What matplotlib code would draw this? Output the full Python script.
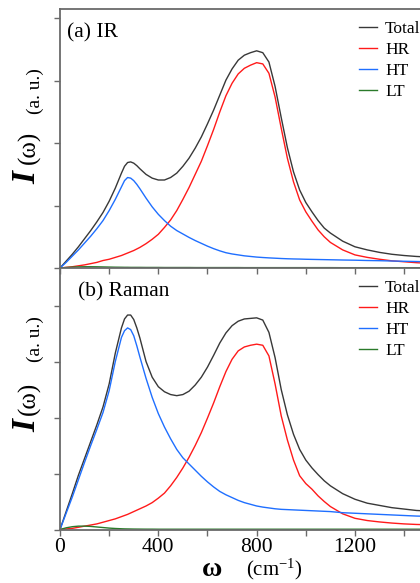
import matplotlib
matplotlib.use("Agg")
import matplotlib.pyplot as plt

plt.rcParams['font.family'] = ['Liberation Serif', 'DejaVu Serif']
plt.rcParams['mathtext.fontset'] = 'custom'
plt.rcParams['mathtext.rm'] = 'Liberation Serif'
plt.rcParams['mathtext.it'] = 'Liberation Serif:italic'

# ---------------- data ----------------
omega = [0, 25, 50, 75, 100, 125, 150, 175, 200, 225,
         250, 262.5, 275, 287.5, 300, 312.5, 325, 350, 375, 400,
         425, 450, 475, 500, 525, 550, 575, 600, 625, 650,
         675, 700, 725, 750, 775, 800, 825, 850, 875, 900,
         925, 950, 975, 1000, 1025, 1050, 1075, 1100,
         1150, 1200, 1250, 1300, 1350, 1400, 1450, 1500]

ir_total = [0, 0.11, 0.22, 0.34, 0.47, 0.60, 0.74, 0.89, 1.07, 1.28,
            1.52, 1.63, 1.69, 1.70, 1.68, 1.64, 1.59, 1.50, 1.44, 1.41,
            1.41, 1.45, 1.52, 1.63, 1.76, 1.92, 2.10, 2.31, 2.53, 2.77,
            3.01, 3.19, 3.33, 3.41, 3.45, 3.48, 3.45, 3.30, 2.91, 2.41,
            1.93, 1.54, 1.25, 1.05, 0.90, 0.76, 0.64, 0.56,
            0.43, 0.34, 0.29, 0.25, 0.22, 0.20, 0.185, 0.175]
ir_hr = [0, 0.01, 0.02, 0.035, 0.05, 0.07, 0.09, 0.12, 0.14, 0.17,
         0.20, 0.22, 0.24, 0.26, 0.28, 0.305, 0.33, 0.39, 0.46, 0.54,
         0.65, 0.77, 0.92, 1.10, 1.29, 1.50, 1.71, 1.96, 2.22, 2.50,
         2.76, 2.96, 3.11, 3.20, 3.25, 3.29, 3.27, 3.12, 2.74, 2.24,
         1.76, 1.38, 1.09, 0.90, 0.75, 0.61, 0.50, 0.41,
         0.29, 0.21, 0.17, 0.14, 0.115, 0.10, 0.085, 0.075]
ir_ht = [0, 0.09, 0.19, 0.29, 0.40, 0.51, 0.63, 0.76, 0.92, 1.10,
         1.30, 1.40, 1.45, 1.44, 1.40, 1.34, 1.27, 1.12, 0.98, 0.86,
         0.76, 0.67, 0.60, 0.545, 0.49, 0.44, 0.395, 0.35, 0.31, 0.275,
         0.245, 0.225, 0.21, 0.195, 0.185, 0.175, 0.168, 0.162, 0.157, 0.152,
         0.148, 0.145, 0.143, 0.14, 0.138, 0.136, 0.134, 0.132,
         0.128, 0.125, 0.12, 0.117, 0.112, 0.108, 0.104, 0.10]
ir_lt = [0, 0.008, 0.014, 0.018, 0.02, 0.02, 0.019, 0.017, 0.015, 0.013,
         0.012, 0.011, 0.011, 0.010, 0.010, 0.010, 0.010, 0.009, 0.009, 0.009,
         0.008, 0.008, 0.008, 0.008, 0.008, 0.007, 0.007, 0.007, 0.007, 0.007,
         0.007, 0.007, 0.007, 0.006, 0.006, 0.006, 0.006, 0.006, 0.006, 0.006,
         0.006, 0.006, 0.006, 0.006, 0.006, 0.006, 0.006, 0.006,
         0.005, 0.005, 0.005, 0.005, 0.005, 0.005, 0.005, 0.005]

raman_total = [0, 0.32, 0.64, 0.97, 1.27, 1.57, 1.87, 2.19, 2.60, 3.15,
               3.60, 3.76, 3.83, 3.83, 3.75, 3.60, 3.42, 3.00, 2.72, 2.55,
               2.46, 2.41, 2.39, 2.41, 2.47, 2.58, 2.72, 2.90, 3.11, 3.33,
               3.51, 3.64, 3.72, 3.76, 3.77, 3.78, 3.74, 3.52, 3.07, 2.50,
               2.05, 1.70, 1.43, 1.24, 1.10, 0.98, 0.87, 0.78,
               0.64, 0.54, 0.47, 0.43, 0.39, 0.365, 0.34, 0.33]
raman_hr = [0, 0.01, 0.02, 0.04, 0.06, 0.08, 0.10, 0.13, 0.16, 0.19,
            0.23, 0.25, 0.27, 0.295, 0.32, 0.345, 0.37, 0.42, 0.48, 0.56,
            0.65, 0.78, 0.93, 1.10, 1.29, 1.50, 1.73, 1.99, 2.26, 2.55,
            2.82, 3.04, 3.19, 3.26, 3.29, 3.31, 3.29, 3.10, 2.60, 2.03,
            1.60, 1.24, 0.96, 0.82, 0.72, 0.60, 0.50, 0.41,
            0.28, 0.20, 0.16, 0.135, 0.115, 0.10, 0.09, 0.085]
raman_ht = [0, 0.29, 0.58, 0.89, 1.20, 1.50, 1.79, 2.09, 2.48, 3.00,
            3.43, 3.55, 3.60, 3.57, 3.46, 3.28, 3.08, 2.70, 2.36, 2.07,
            1.83, 1.62, 1.43, 1.28, 1.17, 1.06, 0.95, 0.85, 0.76, 0.68,
            0.62, 0.57, 0.52, 0.48, 0.45, 0.42, 0.40, 0.385, 0.37, 0.36,
            0.355, 0.35, 0.345, 0.34, 0.335, 0.33, 0.325, 0.32,
            0.30, 0.29, 0.28, 0.27, 0.26, 0.25, 0.24, 0.235]
raman_lt = [0, 0.03, 0.05, 0.06, 0.06, 0.055, 0.045, 0.035, 0.025, 0.018,
            0.013, 0.011, 0.010, 0.009, 0.008, 0.0075, 0.007, 0.006, 0.006, 0.005,
            0.005, 0.005, 0.005, 0.005, 0.005, 0.005, 0.005, 0.005, 0.005, 0.005,
            0.005, 0.005, 0.005, 0.005, 0.005, 0.005, 0.005, 0.005, 0.005, 0.005,
            0.005, 0.005, 0.005, 0.005, 0.005, 0.005, 0.005, 0.005,
            0.005, 0.005, 0.005, 0.005, 0.005, 0.005, 0.005, 0.005]

series_labels = ["Total", "HR", "HT", "LT"]
panel_titles = ["(a) IR", "(b) Raman"]
xtick_values = [0, 200, 400, 600, 800, 1000, 1200, 1400]
xtick_labels = ["0", "", "400", "", "800", "", "1200", ""]

# ---------------- styling ----------------
colors = ['#383838', '#ff1a1a', '#1f6fff', '#2a7a2a']
spine_col = '#6a6a6a'
W_PX, H_PX = 420, 583

fig = plt.figure(figsize=(W_PX / 100, H_PX / 100), dpi=100)
L = 60 / W_PX
ax1 = fig.add_axes([L, 1 - 268 / H_PX, 1 - L, (268 - 9) / H_PX])
ax2 = fig.add_axes([L, 1 - 529.5 / H_PX, 1 - L, (529.5 - 268) / H_PX])
ax2.patch.set_visible(False)

panels = [
    (ax1, [ir_total, ir_hr, ir_ht, ir_lt], (0, 4.15), 21),
    (ax2, [raman_total, raman_hr, raman_ht, raman_lt], (0, 4.67), 280),
]

for ax, ys, ylim, leg_top in panels:
    handles = []
    for y, c, lab in zip(ys, colors, series_labels):
        ln, = ax.plot(omega, y, color=c, lw=1.0, label=lab)
        handles.append(ln)
    ax.set_xlim(0, (W_PX - 60) / 0.2458)
    ax.set_ylim(*ylim)
    ax.set_xticks(xtick_values)
    ax.set_yticks([0, 1, 2, 3, 4])
    ax.set_yticklabels([])
    ax.tick_params(direction='out', length=4, width=1, color=spine_col,
                   labelsize=15.5, pad=2)
    for s in ['left', 'bottom', 'top']:
        ax.spines[s].set_color(spine_col)
        ax.spines[s].set_linewidth(1.3)
    ax.spines['right'].set_visible(False)
    ax.legend(handles, series_labels, loc='upper left',
              bbox_to_anchor=(359 / W_PX, 1 - leg_top / H_PX),
              bbox_transform=fig.transFigure, frameon=False, fontsize=12.5,
              handlelength=1.05, handletextpad=0.45, labelspacing=0.28,
              borderpad=0, borderaxespad=0)

ax1.set_xticklabels([])
ax2.set_xticklabels(xtick_labels)
ax2.spines['top'].set_visible(False)

# panel titles
fig.text(67 / W_PX, 1 - 37 / H_PX, panel_titles[0], fontsize=15.5,
         ha='left', va='baseline')
fig.text(78 / W_PX, 1 - 296 / H_PX, panel_titles[1], fontsize=15.5,
         ha='left', va='baseline')

# y labels
for yi, yw, ya in [(178, 147, 91), (425, 398, 339)]:
    fig.text(27 / W_PX, 1 - yi / H_PX, "I", rotation=90, fontsize=24,
             style='italic', weight='bold', ha='center', va='center')
    fig.text(29 / W_PX, 1 - yw / H_PX, "(ω)", rotation=90, fontsize=18,
             ha='center', va='center')
    fig.text(35 / W_PX, 1 - ya / H_PX, "(a. u.)", rotation=90, fontsize=14,
             ha='center', va='center')

# x label
fig.text(212 / W_PX, 1 - 581.5 / H_PX, "ω", fontsize=20, weight='bold',
         ha='center', va='bottom')
fig.text(274 / W_PX, 1 - 581.5 / H_PX, "(cm$^{-1}$)", fontsize=15,
         ha='center', va='bottom')

fig.savefig("out.png", dpi=100)
